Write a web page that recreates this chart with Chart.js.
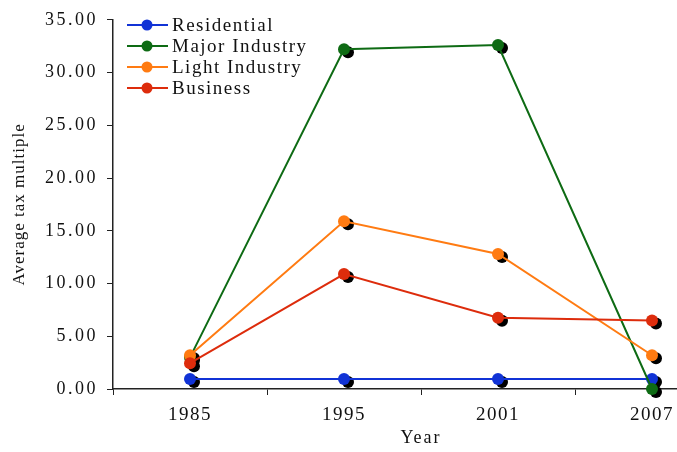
<!DOCTYPE html>
<html>
<head>
<meta charset="utf-8">
<script src="https://cdn.jsdelivr.net/npm/chart.js@4.4.1/dist/chart.umd.min.js"></script>
<style>
  html, body { margin: 0; padding: 0; overflow: hidden; background: #fff; }
  #wrap { width: 735px; height: 452px; }
</style>
</head>
<body>
<div id="wrap"><canvas id="taxChart"></canvas></div>
<script>
// values
const years = ['1985', '1995', '2001', '2007'];
const residential = [0.95, 0.95, 0.95, 0.95];
const majorIndustry = [3.0, 32.2, 32.6, 0.0];
const lightIndustry = [3.2, 15.9, 12.8, 3.2];
const business = [2.45, 10.9, 6.75, 6.5];
const yTicks = [0, 5, 10, 15, 20, 25, 30, 35];

const seriesNames = ['Residential', 'Major Industry', 'Light Industry', 'Business'];
const seriesColors = ['#1133d6', '#0e6b14', '#ff7b12', '#dd2c0c'];
const seriesData = [residential, majorIndustry, lightIndustry, business];

const serif = "'Liberation Serif', 'Times New Roman', serif";

// excel-ish stretched text: add letter spacing per axis
const spacing = { x: '1.5px', y: '2.5px' };
const titleSpacing = { x: '2px', y: '1px' };

const spacingPlugin = {
  id: 'spacing',
  beforeDraw(chart) {
    for (const id of ['x', 'y']) {
      const sc = chart.scales[id];
      if (sc._wrapped) continue;
      const ctx = chart.ctx;
      const lbl = sc.drawLabels.bind(sc);
      const ttl = sc.drawTitle.bind(sc);
      sc.drawLabels = function (area) { ctx.save(); ctx.letterSpacing = spacing[id]; lbl(area); ctx.restore(); };
      sc.drawTitle = function (area) { ctx.save(); ctx.letterSpacing = titleSpacing[id]; ttl(area); ctx.restore(); };
      sc._wrapped = true;
    }
  }
};

// black drop shadows under the markers
const shadowPlugin = {
  id: 'markerShadow',
  beforeDatasetsDraw(chart) {
    const ctx = chart.ctx;
    ctx.save();
    ctx.fillStyle = '#000';
    chart.data.datasets.forEach((ds, i) => {
      chart.getDatasetMeta(i).data.forEach(pt => {
        ctx.beginPath();
        ctx.arc(pt.x + 4, pt.y + 3, 6, 0, Math.PI * 2);
        ctx.fill();
      });
    });
    ctx.restore();
  }
};

// legend drawn inside the plot area, top left
const legendPlugin = {
  id: 'innerLegend',
  afterDraw(chart) {
    const ctx = chart.ctx;
    ctx.save();
    ctx.letterSpacing = '1.5px';
    ctx.font = '19px ' + serif;
    ctx.textBaseline = 'middle';
    seriesNames.forEach((name, i) => {
      const y = 25 + i * 21;
      ctx.strokeStyle = seriesColors[i];
      ctx.lineWidth = 2;
      ctx.beginPath();
      ctx.moveTo(127, y);
      ctx.lineTo(168, y);
      ctx.stroke();
      ctx.fillStyle = seriesColors[i];
      ctx.beginPath();
      ctx.arc(147, y, 5.5, 0, Math.PI * 2);
      ctx.fill();
      ctx.fillStyle = '#111';
      ctx.fillText(name, 172, y + 1);
    });
    ctx.restore();
  }
};

const datasets = seriesData.map((vals, i) => ({
  label: seriesNames[i],
  data: vals,
  borderColor: seriesColors[i],
  backgroundColor: seriesColors[i],
  borderWidth: 2,
  pointRadius: 6,
  pointHoverRadius: 6,
  pointBorderWidth: 0,
  tension: 0,
  clip: false,
  order: seriesNames.length - i
}));

new Chart(document.getElementById('taxChart'), {
  type: 'line',
  data: { labels: years, datasets: datasets },
  plugins: [spacingPlugin, shadowPlugin, legendPlugin],
  options: {
    responsive: true,
    maintainAspectRatio: false,
    animation: false,
    layout: { padding: { top: 15, right: 6, left: 0, bottom: 0 } },
    plugins: {
      legend: { display: false },
      tooltip: { enabled: false }
    },
    scales: {
      x: {
        type: 'category',
        offset: true,
        grid: { offset: true, drawOnChartArea: false, drawTicks: true, tickLength: 6, color: '#222' },
        border: { display: true, color: '#222', width: 1.5 },
        ticks: { color: '#111', font: { family: serif, size: 19 }, padding: 9, maxRotation: 0 },
        title: { display: true, text: 'Year', color: '#111', font: { family: serif, size: 18 }, padding: { top: 0, bottom: 3 } },
        afterFit(scale) { scale.height = 63; }
      },
      y: {
        min: 0,
        max: 35,
        afterBuildTicks(scale) { scale.ticks = yTicks.map(v => ({ value: v })); },
        grid: { drawOnChartArea: false, drawTicks: true, tickLength: 6, color: '#222' },
        border: { display: true, color: '#222', width: 1.5 },
        ticks: {
          color: '#111',
          font: { family: serif, size: 18 },
          padding: 9,
          callback: v => Number(v).toFixed(2)
        },
        title: { display: true, text: 'Average tax multiple', color: '#111', font: { family: serif, size: 17 }, padding: { top: 9, bottom: 0 } },
        afterFit(scale) { scale.width = 113; }
      }
    }
  }
});
</script>
</body>
</html>
